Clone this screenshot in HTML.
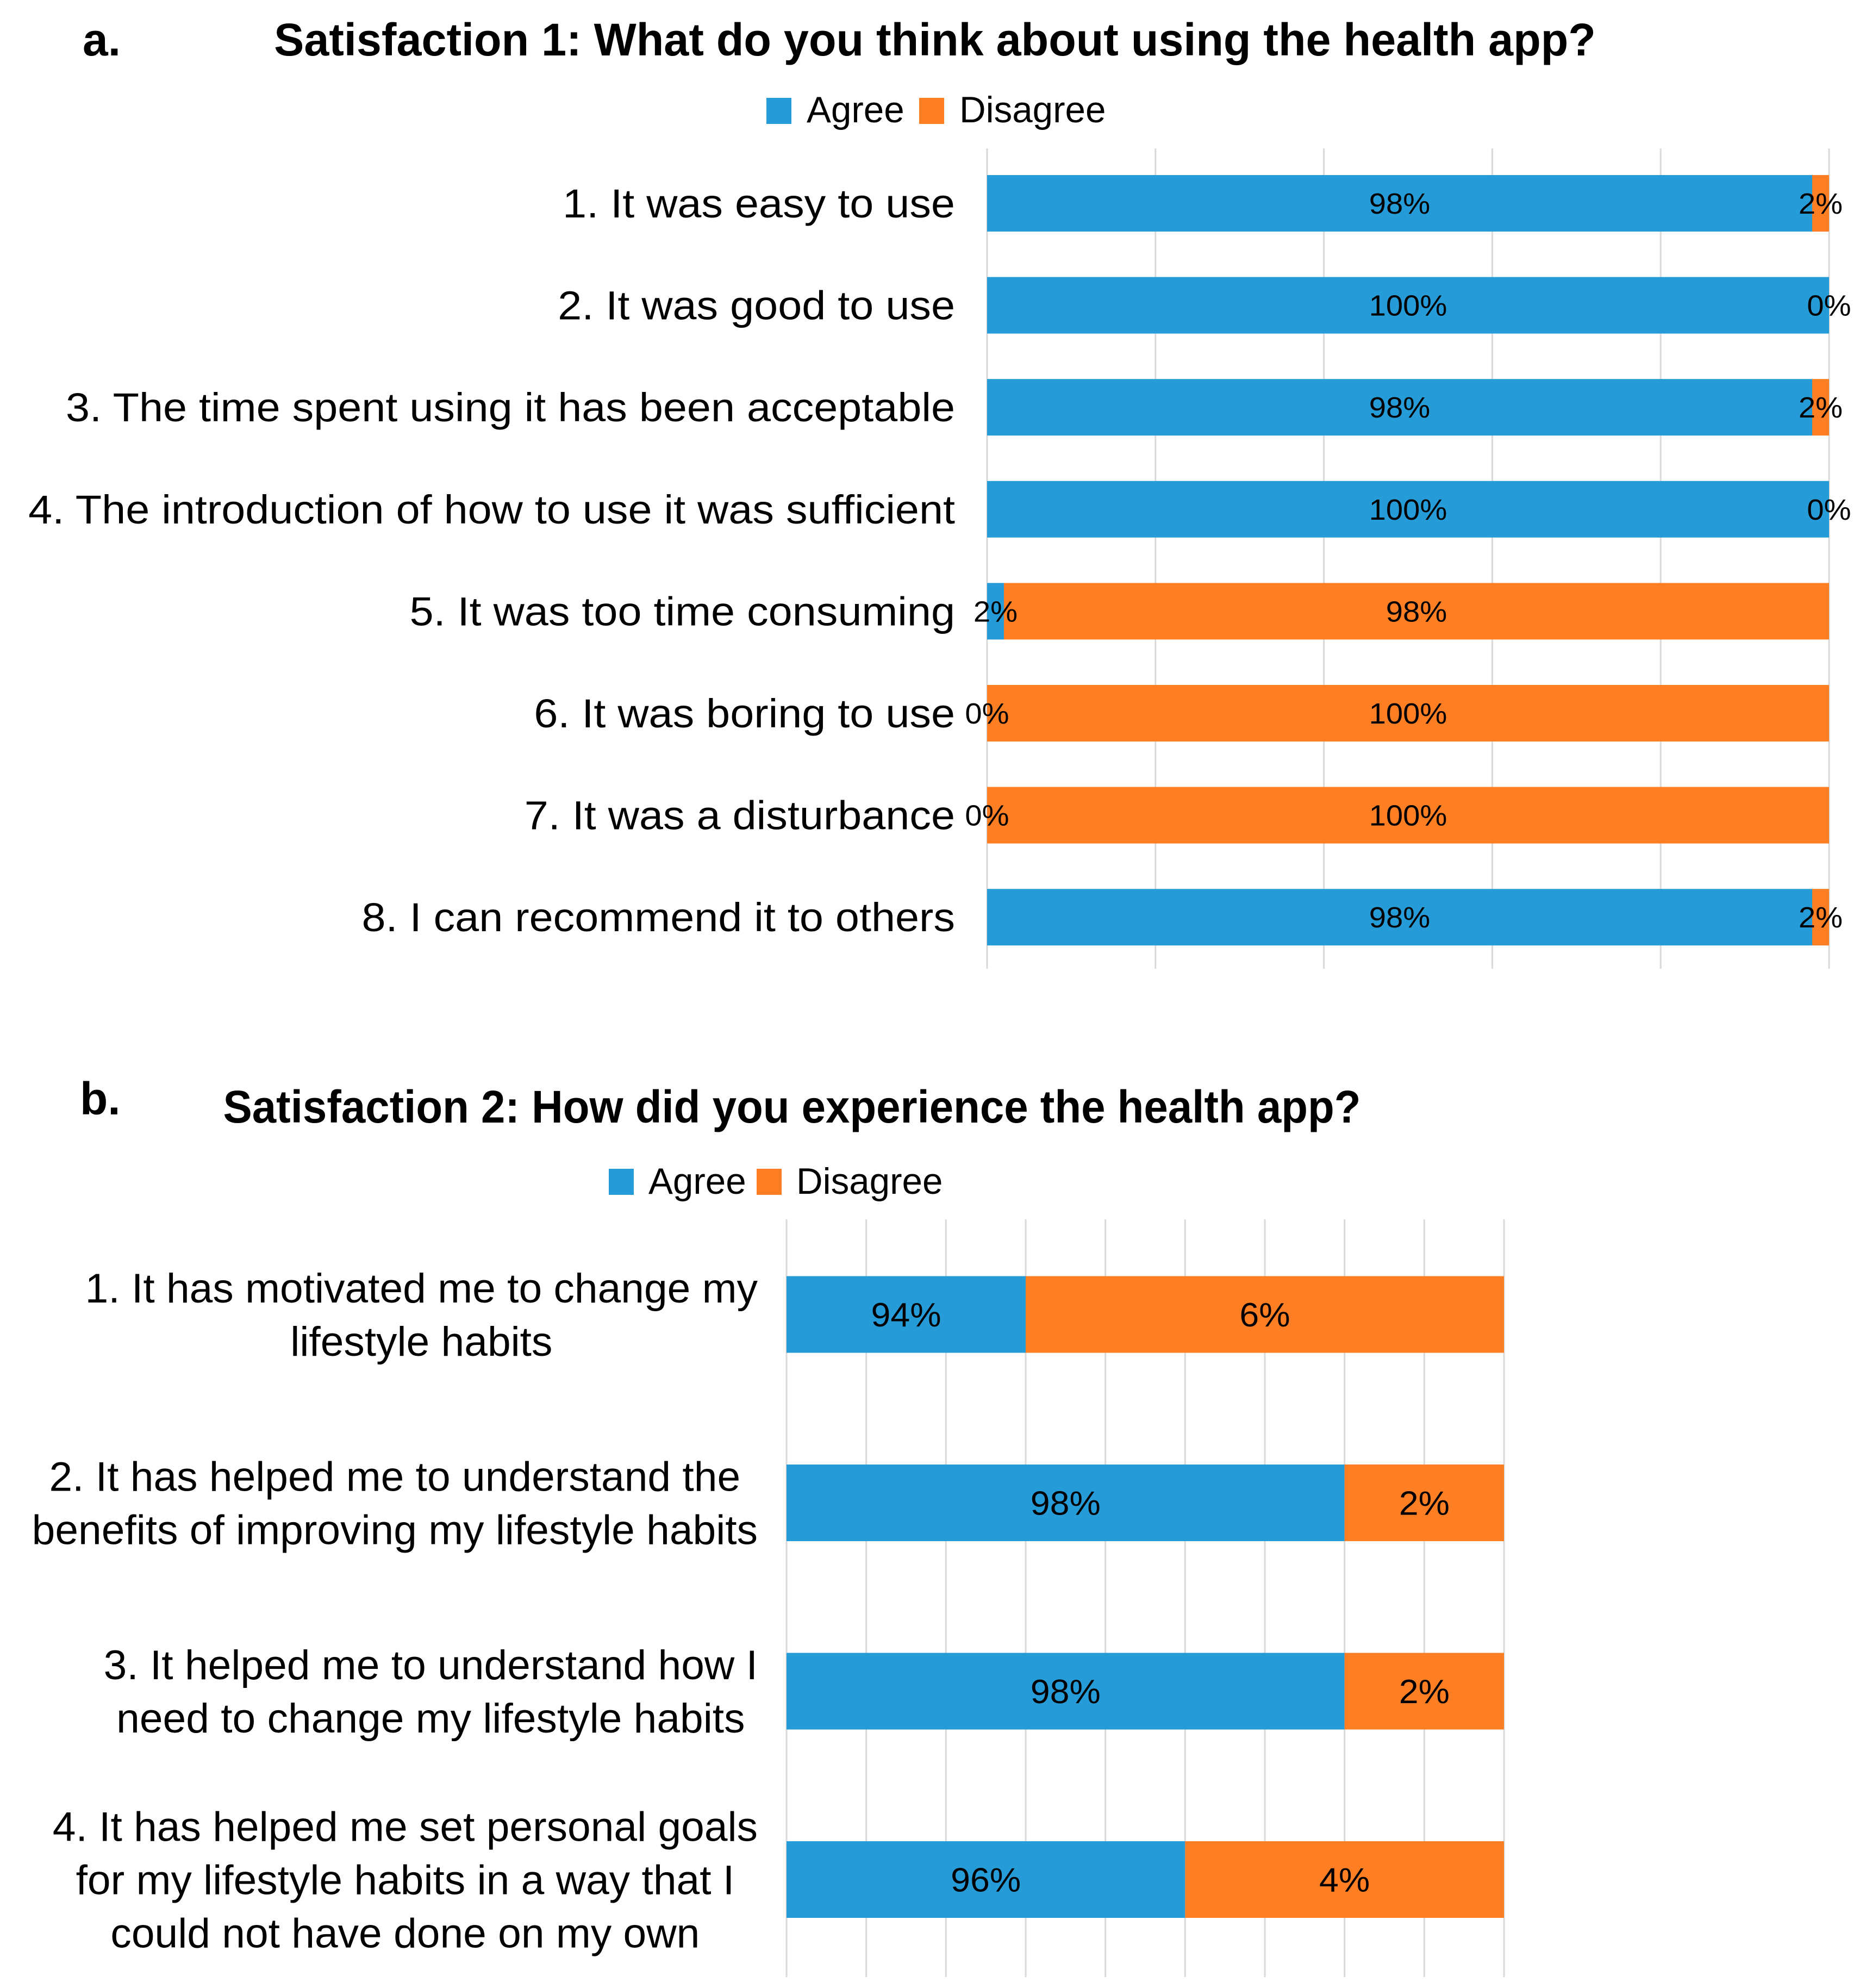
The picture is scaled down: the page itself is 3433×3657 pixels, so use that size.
<!DOCTYPE html>
<html><head><meta charset="utf-8"><style>
html,body{margin:0;padding:0;background:#fff}
svg{display:block}
text{font-family:"Liberation Sans",sans-serif;fill:#000}
</style></head><body>
<svg id="s" width="3433" height="3657" viewBox="0 0 3433 3657">
<text x="152" y="102" font-size="84" font-weight="bold">a.</text>
<text x="1720" y="102" font-size="84" font-weight="bold" text-anchor="middle" data-f="0.985" class="cmp">Satisfaction 1: What do you think about using the health app?</text>
<g>
<rect x="1410" y="180" width="46" height="48" fill="#259bd8"/>
<text x="1484" y="225" font-size="68" data-f="0.99" class="cmp">Agree</text>
<rect x="1691" y="180" width="46" height="48" fill="#fd7e23"/>
<text x="1765" y="225" font-size="68" data-f="0.99" class="cmp">Disagree</text>
</g>
<g id="ca"></g>
<text x="147" y="2050" font-size="84" font-weight="bold">b.</text>
<text x="1457" y="2065" font-size="84" font-weight="bold" text-anchor="middle" data-f="0.95" class="cmp">Satisfaction 2: How did you experience the health app?</text>
<g>
<rect x="1120" y="2150" width="46" height="48" fill="#259bd8"/>
<text x="1193" y="2196" font-size="68" data-f="0.99" class="cmp">Agree</text>
<rect x="1392" y="2150" width="46" height="48" fill="#fd7e23"/>
<text x="1465" y="2196" font-size="68" data-f="0.99" class="cmp">Disagree</text>
</g>
<g id="cb"></g>
</svg>
<script>
const aCategories=["1. It was easy to use","2. It was good to use","3. The time spent using it has been acceptable","4. The introduction of how to use it was sufficient","5. It was too time consuming","6. It was boring to use","7. It was a disturbance","8. I can recommend it to others"];
const aAgree=[98,100,98,100,2,0,0,98];
const aDisagree=[2,0,2,0,98,100,100,2];
const aTicks=[0,20,40,60,80,100];
const bCategories=[["1. It has motivated me to change my","lifestyle habits"],["2. It has helped me to understand the","benefits of improving my lifestyle habits"],["3. It helped me to understand how I","need to change my lifestyle habits"],["4. It has helped me set personal goals","for my lifestyle habits in a way that I","could not have done on my own"]];
const bAgree=[94,98,98,96];
const bDisagree=[6,2,2,4];
const bTicks=[91,92,93,94,95,96,97,98,99,100];

const NS="http://www.w3.org/2000/svg";
const BLUE="#259bd8",ORANGE="#fd7e23",GRID="#d9d9d9";
function mk(p,tag,at){const e=document.createElementNS(NS,tag);for(const k in at)e.setAttribute(k,at[k]);p.appendChild(e);return e;}
function squeeze(t,f){const w=t.getComputedTextLength();t.setAttribute('textLength',w*f);t.setAttribute('lengthAdjust','spacingAndGlyphs');}

// Chart A
(function(){
const g=document.getElementById('ca');
const x0=1816,x1=3365,top=273,bot=1782,c0=374,pitch=187.6,bh=104;
const xs=v=>x0+(v-0)/100*(x1-x0);
aTicks.forEach((t,i)=>{const l=mk(g,'line',{x1:xs(t),x2:xs(t),y1:top,y2:bot,stroke:GRID,'stroke-width':3});

});
aCategories.forEach((c,i)=>{
const cy=c0+i*pitch;
const lab=mk(g,'text',{x:1757,y:cy+26,'font-size':74,'text-anchor':'end'});lab.textContent=c;


squeeze(lab,1.07);
const ra=mk(g,'rect',{x:xs(0),y:cy-bh/2,width:xs(aAgree[i])-xs(0),height:bh,fill:BLUE});


const rd=mk(g,'rect',{x:xs(aAgree[i]),y:cy-bh/2,width:xs(aAgree[i]+aDisagree[i])-xs(aAgree[i]),height:bh,fill:ORANGE});


const ta=mk(g,'text',{x:(xs(0)+xs(aAgree[i]))/2,y:cy+19,'font-size':54,'text-anchor':'middle'});ta.textContent=aAgree[i]+'%';


squeeze(ta,1.04);
const td=mk(g,'text',{x:(xs(aAgree[i])+xs(aAgree[i]+aDisagree[i]))/2,y:cy+19,'font-size':54,'text-anchor':'middle'});td.textContent=aDisagree[i]+'%';


squeeze(td,1.04);
});
})();

// Chart B
(function(){
const g=document.getElementById('cb');
const x0=1447,x1=2767,top=2243,bot=3637,c0=2418,pitch=346.5,bh=141;
const vmin=bTicks[0],vmax=bTicks[bTicks.length-1];
const xs=v=>x0+(v-vmin)/(vmax-vmin)*(x1-x0);
bTicks.forEach(t=>{const l=mk(g,'line',{x1:xs(t),x2:xs(t),y1:top,y2:bot,stroke:GRID,'stroke-width':3});

});
bCategories.forEach((lines,i)=>{
const cy=c0+i*pitch;
const lh=98;
const firstBase=cy+27-(lines.length-1)*lh/2;
const els=lines.map((s,j)=>{const t=mk(g,'text',{x:0,y:firstBase+j*lh,'font-size':76,'text-anchor':'middle'});t.textContent=s;


squeeze(t,1.01);return t;});
const mw=Math.max(...els.map(t=>parseFloat(t.getAttribute('textLength'))));
els.forEach(t=>t.setAttribute('x',1394-mw/2));
const ra=mk(g,'rect',{x:x0,y:cy-bh/2,width:xs(bAgree[i])-x0,height:bh,fill:BLUE});


const rd=mk(g,'rect',{x:xs(bAgree[i]),y:cy-bh/2,width:x1-xs(bAgree[i]),height:bh,fill:ORANGE});


const ta=mk(g,'text',{x:(x0+xs(bAgree[i]))/2,y:cy+22,'font-size':62,'text-anchor':'middle'});ta.textContent=bAgree[i]+'%';


squeeze(ta,1.04);
const td=mk(g,'text',{x:(xs(bAgree[i])+x1)/2,y:cy+22,'font-size':62,'text-anchor':'middle'});td.textContent=bDisagree[i]+'%';


squeeze(td,1.04);
});
})();
document.querySelectorAll('text.cmp').forEach(t=>squeeze(t,parseFloat(t.getAttribute('data-f'))));
</script>
</body></html>
